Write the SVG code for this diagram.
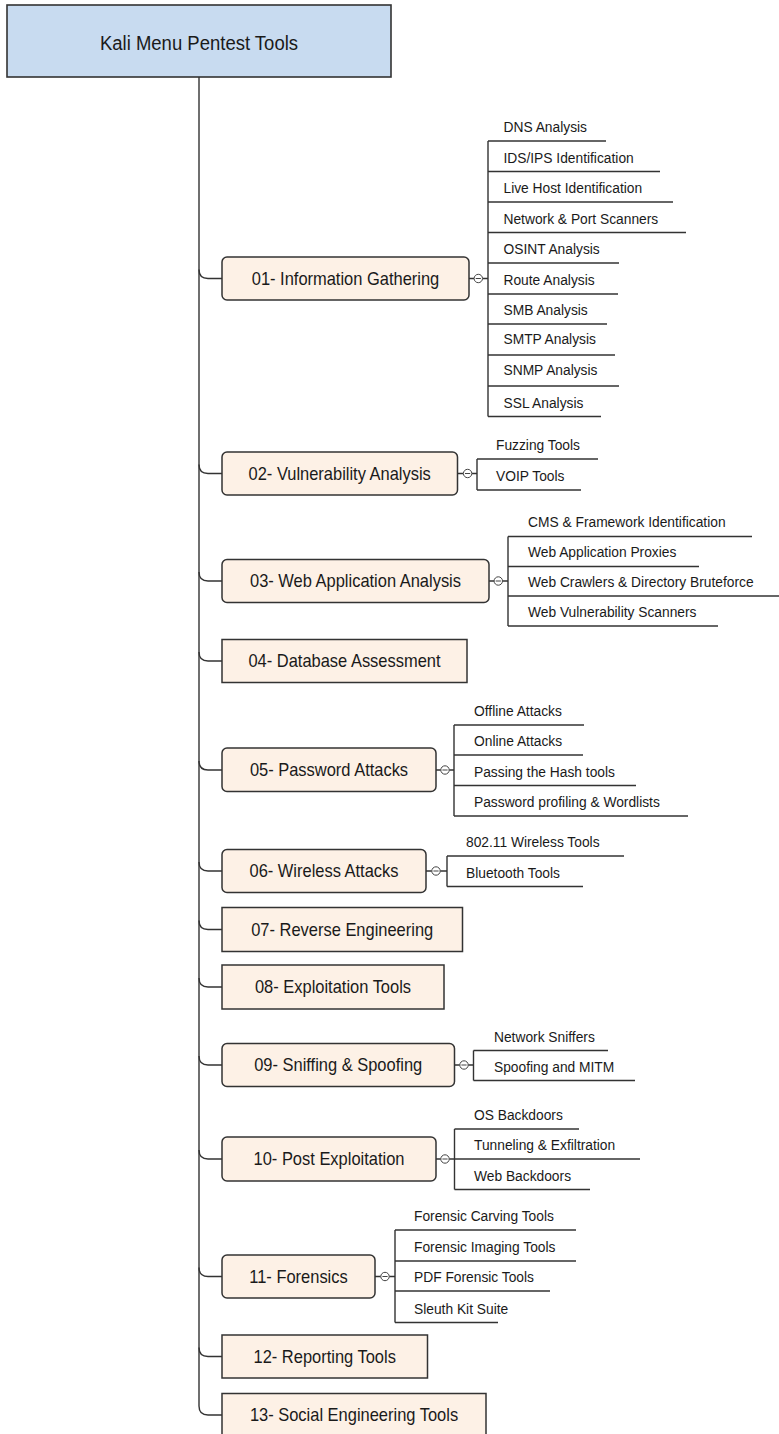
<svg xmlns="http://www.w3.org/2000/svg" width="779" height="1434" viewBox="0 0 779 1434">
<style>
.root{fill:#c8dbf0;stroke:#333;stroke-width:1.6}
.nd{fill:#fdf1e6;stroke:#333;stroke-width:1.5}
.ln{fill:none;stroke:#333;stroke-width:1.4}
.tg{fill:#fff;stroke:#444;stroke-width:1}
.t0,.t1,.t2{font-family:"Liberation Sans",Arial,sans-serif;fill:#1a1a1a;transform-box:fill-box;transform:scaleX(0.89)}
.t0{font-size:20.8px;text-anchor:middle;transform-origin:center}
.t1{font-size:18.5px;text-anchor:middle;transform-origin:center}
.t2{font-size:15.5px;transform-origin:0 0}
</style>
<defs>
<g id="tog"><circle r="4.2" class="tg"/><line x1="-2.6" x2="2.6" y1="0" y2="0" stroke="#444" stroke-width="1"/></g>
</defs>
<rect width="779" height="1434" fill="#fff"/>
<g id="connectors">
<path class="ln" d="M199,77 V1406 Q199,1415 208,1415 H222"/>
<path class="ln" d="M199,269.5 Q199,278.5 208,278.5 H222"/>
<path class="ln" d="M199,464.5 Q199,473.5 208,473.5 H222"/>
<path class="ln" d="M199,572 Q199,581 208,581 H222"/>
<path class="ln" d="M199,652 Q199,661 208,661 H222"/>
<path class="ln" d="M199,761 Q199,770 208,770 H222"/>
<path class="ln" d="M199,862 Q199,871 208,871 H222"/>
<path class="ln" d="M199,920.5 Q199,929.5 208,929.5 H222"/>
<path class="ln" d="M199,978 Q199,987 208,987 H222"/>
<path class="ln" d="M199,1056 Q199,1065 208,1065 H222"/>
<path class="ln" d="M199,1150 Q199,1159 208,1159 H222"/>
<path class="ln" d="M199,1267.5 Q199,1276.5 208,1276.5 H222"/>
<path class="ln" d="M199,1347.5 Q199,1356.5 208,1356.5 H222"/>
<path class="ln" d="M469,278.5 H474 M482.5,278.5 H488 M488,141 V416.5"/>
<use href="#tog" x="478.3" y="278.5"/>
<path class="ln" d="M457.5,473.5 H463.4 M471.8,473.5 H477 M477,459 V490"/>
<use href="#tog" x="467.6" y="473.5"/>
<path class="ln" d="M489,581 H494.1 M502.5,581 H508 M508,536.5 V626"/>
<use href="#tog" x="498.3" y="581"/>
<path class="ln" d="M436,770 H440.8 M449.2,770 H454 M454,725 V816"/>
<use href="#tog" x="445" y="770"/>
<path class="ln" d="M426,871 H431.8 M440.2,871 H447 M447,856 V886.5"/>
<use href="#tog" x="436" y="871"/>
<path class="ln" d="M454.5,1065 H459.8 M468.2,1065 H473.5 M473.5,1050.5 V1080.5"/>
<use href="#tog" x="464" y="1065"/>
<path class="ln" d="M436,1159 H440.8 M449.2,1159 H454.5 M454.5,1129 V1189.5"/>
<use href="#tog" x="445" y="1159"/>
<path class="ln" d="M375,1276.5 H380.8 M389.2,1276.5 H395 M395,1230 V1322.5"/>
<use href="#tog" x="385" y="1276.5"/>
</g>
<g id="root"><rect class="root" x="7" y="5" width="384" height="72"/><text class="t0" x="199" y="50">Kali Menu Pentest Tools</text></g>

<g id="n01"><rect class="nd" x="222" y="257" width="247" height="43" rx="5"/><text class="t1" x="345.5" y="285">01- Information Gathering</text></g>
<g id="n01-1"><path class="ln" d="M488,141 H606"/><text class="t2" x="503.5" y="132.5">DNS Analysis</text></g>
<g id="n01-2"><path class="ln" d="M488,171.5 H660"/><text class="t2" x="503.5" y="163">IDS/IPS Identification</text></g>
<g id="n01-3"><path class="ln" d="M488,202 H673"/><text class="t2" x="503.5" y="193.5">Live Host Identification</text></g>
<g id="n01-4"><path class="ln" d="M488,232.5 H686"/><text class="t2" x="503.5" y="224">Network &amp; Port Scanners</text></g>
<g id="n01-5"><path class="ln" d="M488,263 H619"/><text class="t2" x="503.5" y="254.5">OSINT Analysis</text></g>
<g id="n01-6"><path class="ln" d="M488,294 H618"/><text class="t2" x="503.5" y="285.5">Route Analysis</text></g>
<g id="n01-7"><path class="ln" d="M488,324 H607"/><text class="t2" x="503.5" y="315.5">SMB Analysis</text></g>
<g id="n01-8"><path class="ln" d="M488,355 H615"/><text class="t2" x="503.5" y="344.5">SMTP Analysis</text></g>
<g id="n01-9"><path class="ln" d="M488,386 H619"/><text class="t2" x="503.5" y="375.5">SNMP Analysis</text></g>
<g id="n01-10"><path class="ln" d="M488,416.5 H601"/><text class="t2" x="503.5" y="408.5">SSL Analysis</text></g>

<g id="n02"><rect class="nd" x="222" y="452" width="235.5" height="43" rx="5"/><text class="t1" x="339.7" y="480">02- Vulnerability Analysis</text></g>
<g id="n02-1"><path class="ln" d="M477,459 H598"/><text class="t2" x="496" y="450">Fuzzing Tools</text></g>
<g id="n02-2"><path class="ln" d="M477,490 H581"/><text class="t2" x="496" y="481">VOIP Tools</text></g>

<g id="n03"><rect class="nd" x="222" y="559.5" width="267" height="43" rx="5"/><text class="t1" x="355.5" y="587.5">03- Web Application Analysis</text></g>
<g id="n03-1"><path class="ln" d="M508,536.5 H752"/><text class="t2" x="528" y="527.5">CMS &amp; Framework Identification</text></g>
<g id="n03-2"><path class="ln" d="M508,566.5 H699"/><text class="t2" x="528" y="557.5">Web Application Proxies</text></g>
<g id="n03-3"><path class="ln" d="M508,596 H779"/><text class="t2" x="528" y="587.5">Web Crawlers &amp; Directory Bruteforce</text></g>
<g id="n03-4"><path class="ln" d="M508,626 H718"/><text class="t2" x="528" y="617.5">Web Vulnerability Scanners</text></g>

<g id="n04"><rect class="nd" x="222" y="639.5" width="245" height="43"/><text class="t1" x="344.5" y="667.5">04- Database Assessment</text></g>

<g id="n05"><rect class="nd" x="222" y="748" width="214" height="43.5" rx="5"/><text class="t1" x="329" y="776.5">05- Password Attacks</text></g>
<g id="n05-1"><path class="ln" d="M454,725 H584"/><text class="t2" x="474" y="716.5">Offline Attacks</text></g>
<g id="n05-2"><path class="ln" d="M454,755 H583"/><text class="t2" x="474" y="746.5">Online Attacks</text></g>
<g id="n05-3"><path class="ln" d="M454,785.5 H636"/><text class="t2" x="474" y="777">Passing the Hash tools</text></g>
<g id="n05-4"><path class="ln" d="M454,816 H688"/><text class="t2" x="474" y="807.5">Password profiling &amp; Wordlists</text></g>

<g id="n06"><rect class="nd" x="222" y="849.5" width="204" height="43" rx="5"/><text class="t1" x="324" y="877.5">06- Wireless Attacks</text></g>
<g id="n06-1"><path class="ln" d="M447,856 H624"/><text class="t2" x="466" y="847.5">802.11 Wireless Tools</text></g>
<g id="n06-2"><path class="ln" d="M447,886.5 H583"/><text class="t2" x="466" y="878">Bluetooth Tools</text></g>

<g id="n07"><rect class="nd" x="222" y="907.5" width="240.5" height="44"/><text class="t1" x="342.2" y="936">07- Reverse Engineering</text></g>
<g id="n08"><rect class="nd" x="222" y="965" width="222" height="44"/><text class="t1" x="333" y="993.5">08- Exploitation Tools</text></g>

<g id="n09"><rect class="nd" x="222" y="1043.5" width="232.5" height="43" rx="5"/><text class="t1" x="338.2" y="1071.5">09- Sniffing &amp; Spoofing</text></g>
<g id="n09-1"><path class="ln" d="M473.5,1050.5 H608"/><text class="t2" x="494" y="1042">Network Sniffers</text></g>
<g id="n09-2"><path class="ln" d="M473.5,1080.5 H635"/><text class="t2" x="494" y="1072">Spoofing and MITM</text></g>

<g id="n10"><rect class="nd" x="222" y="1137" width="214" height="44" rx="5"/><text class="t1" x="329" y="1165.5">10- Post Exploitation</text></g>
<g id="n10-1"><path class="ln" d="M454.5,1129 H579"/><text class="t2" x="474" y="1120.5">OS Backdoors</text></g>
<g id="n10-2"><path class="ln" d="M454.5,1159 H640"/><text class="t2" x="474" y="1150.5">Tunneling &amp; Exfiltration</text></g>
<g id="n10-3"><path class="ln" d="M454.5,1189.5 H590"/><text class="t2" x="474" y="1181">Web Backdoors</text></g>

<g id="n11"><rect class="nd" x="222" y="1255" width="153" height="43" rx="5"/><text class="t1" x="298.5" y="1283">11- Forensics</text></g>
<g id="n11-1"><path class="ln" d="M395,1230 H576"/><text class="t2" x="414" y="1221.5">Forensic Carving Tools</text></g>
<g id="n11-2"><path class="ln" d="M395,1261 H576"/><text class="t2" x="414" y="1252.5">Forensic Imaging Tools</text></g>
<g id="n11-3"><path class="ln" d="M395,1291 H550"/><text class="t2" x="414" y="1282.5">PDF Forensic Tools</text></g>
<g id="n11-4"><path class="ln" d="M395,1322.5 H498"/><text class="t2" x="414" y="1314">Sleuth Kit Suite</text></g>

<g id="n12"><rect class="nd" x="222" y="1335" width="205.5" height="43"/><text class="t1" x="324.7" y="1363">12- Reporting Tools</text></g>
<g id="n13"><rect class="nd" x="222" y="1393.5" width="264" height="44"/><text class="t1" x="354" y="1421.5">13- Social Engineering Tools</text></g>
</svg>
